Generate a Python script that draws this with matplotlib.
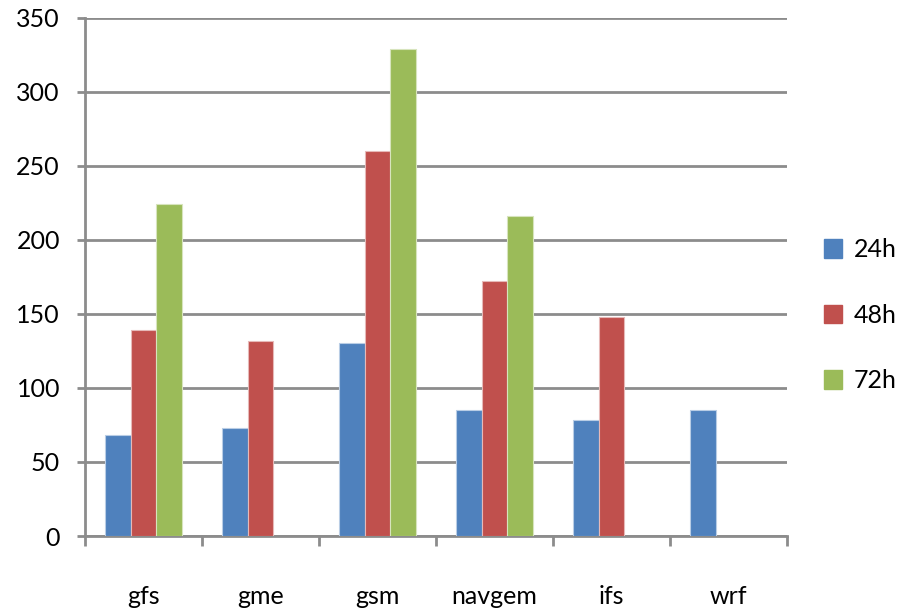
import numpy as np
import matplotlib
matplotlib.use("Agg")
import matplotlib.pyplot as plt
from matplotlib.patches import Patch

plt.rcParams["font.family"] = ["Lato", "DejaVu Sans"]

models = ["gfs", "gme", "gsm", "navgem", "ifs", "wrf"]
leads = ["24h", "48h", "72h"]
err_24h = [68, 73, 130, 85, 78, 85]
err_48h = [139, 132, 260, 172, 148, np.nan]
err_72h = [224, np.nan, 329, 216, np.nan, np.nan]
colors = ["#4F81BD", "#C0504D", "#9BBB59"]
edges = ["#B9CDE5", "#E6B9B8", "#D7E4BD"]

fig = plt.figure(figsize=(9.01, 6.10), dpi=100)
ax = fig.add_axes([0.0943, 0.1213, 0.7792, 0.8497])

x = np.arange(len(models))
width = 0.22
for i, (vals, c, e) in enumerate(zip([err_24h, err_48h, err_72h], colors, edges)):
    ax.bar(x + (i - 1) * width, vals, width, color=c, edgecolor=e,
           linewidth=0.8, zorder=3)

ax.set_xlim(-0.5, len(models) - 0.5)
ax.set_ylim(0, 350)
ax.set_yticks(np.arange(0, 351, 50))
ax.grid(axis="y", color="#8C8C8C", linewidth=2, zorder=0)

# category separators as minor ticks, labels on centres
ax.set_xticks(x)
ax.set_xticklabels(models)
ax.set_xticks(np.arange(-0.5, len(models)), minor=True)
ax.tick_params(axis="x", which="major", length=0, pad=35, labelsize=18)
ax.tick_params(axis="x", which="minor", length=7, width=2, color="#8C8C8C")
ax.tick_params(axis="y", length=6, width=2, color="#8C8C8C", pad=12,
               labelsize=18)

for side in ["top", "right"]:
    ax.spines[side].set_visible(False)
for side in ["left", "bottom"]:
    ax.spines[side].set_color("#8C8C8C")
    ax.spines[side].set_linewidth(2)

handles = [Patch(facecolor=c, edgecolor=c) for c in colors]
fig.legend(handles, leads, loc="center left", bbox_to_anchor=(0.903, 0.483),
           frameon=False, fontsize=18, handlelength=0.75, handleheight=0.75,
           handletextpad=0.45, labelspacing=1.7, borderaxespad=0)

fig.savefig("out.png", dpi=100)
